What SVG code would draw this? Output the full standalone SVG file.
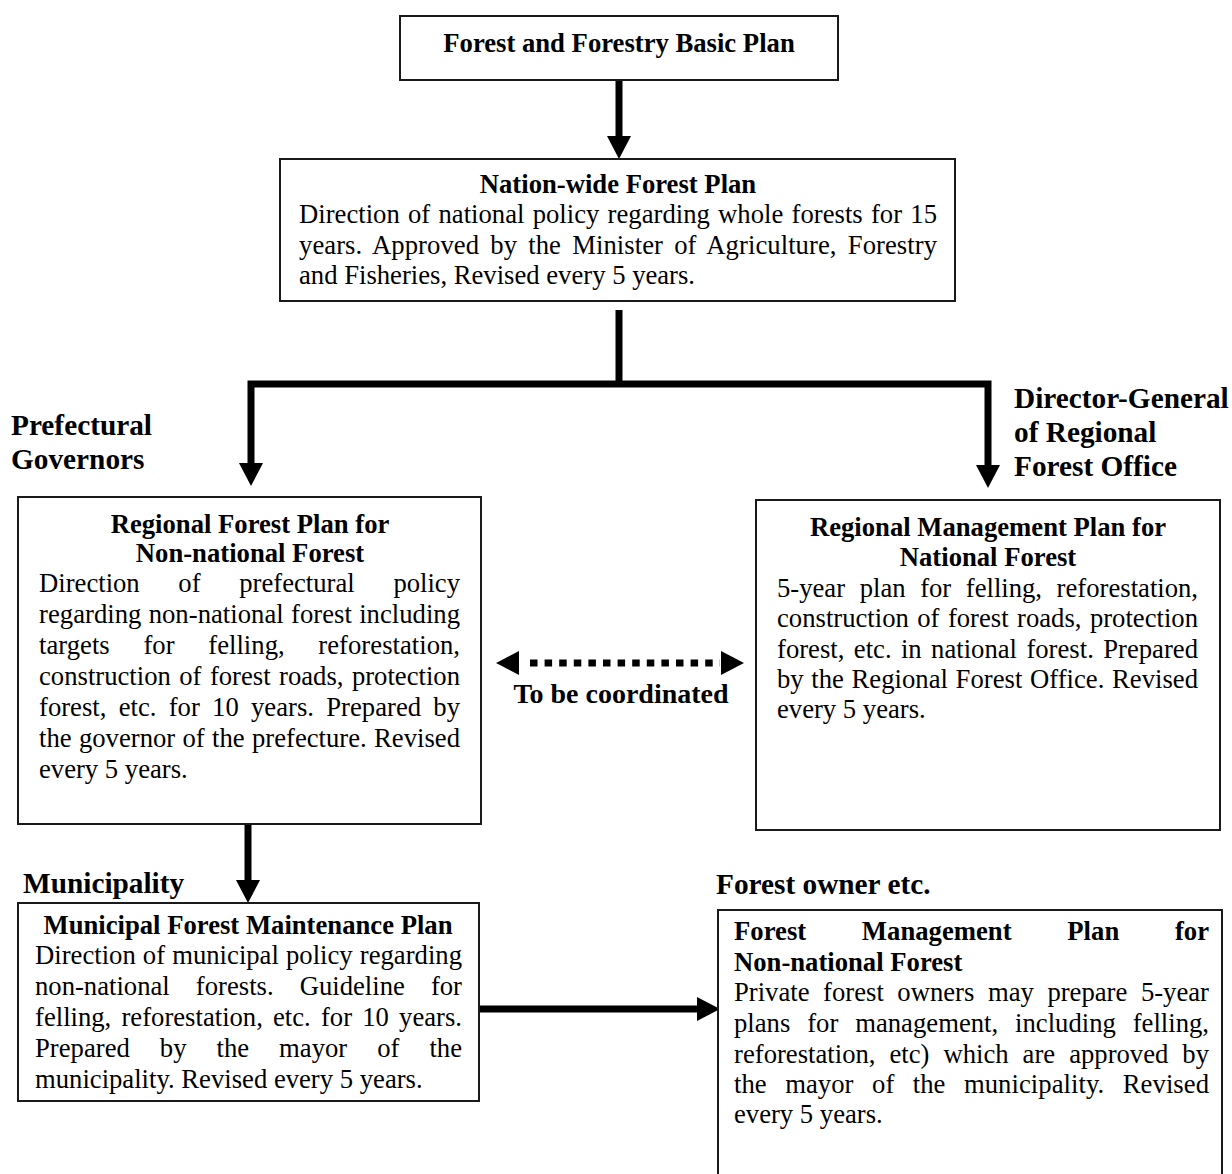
<svg xmlns="http://www.w3.org/2000/svg" width="1232" height="1174" viewBox="0 0 1232 1174">
<style>
.box{fill:#fff;stroke:#1a1a1a;stroke-width:2}
.t{font-family:"Liberation Serif","Times New Roman",serif;font-size:26.67px;fill:#000}
.b{font-weight:bold}
.lbl{font-family:"Liberation Serif","Times New Roman",serif;font-size:29.3px;font-weight:bold;fill:#000}
.c{text-anchor:middle}
.shaft{stroke:#000;stroke-width:7;fill:none;stroke-linejoin:miter}
.dash{stroke:#000;stroke-width:7;fill:none;stroke-dasharray:7.5 7.1}
.mk{stroke:none;fill:none}
</style>
<defs>
<marker id="ah" markerUnits="userSpaceOnUse" markerWidth="24" markerHeight="24" refX="0" refY="12" orient="auto-start-reverse" overflow="visible">
<path d="M0,0 L23,12 L0,24 Z" fill="#000"/>
</marker>
</defs>
<rect width="1232" height="1174" fill="#fff"/>

<g id="connectors">
<path class="shaft" d="M619,80 V136" marker-end="url(#ah)"/>
<path class="shaft" d="M619,310 V381"/>
<path class="shaft" d="M251,463 V384 H988 V465" marker-start="url(#ah)" marker-end="url(#ah)"/>
<path class="shaft" d="M248,824 V880" marker-end="url(#ah)"/>
<path class="shaft" d="M479,1009 H697" marker-end="url(#ah)"/>
<path class="dash" d="M530,663 H720"/>
<path class="mk" d="M519,663 H721" marker-start="url(#ah)" marker-end="url(#ah)"/>
</g>

<g id="basic-plan">
<rect class="box" x="400" y="16" width="438" height="64"/>
<text class="t b c" x="619" y="52">Forest and Forestry Basic Plan</text>
</g>

<g id="nationwide-plan">
<rect class="box" x="280" y="159" width="675" height="142"/>
<text class="t b c" x="618" y="193">Nation-wide Forest Plan</text>
<text class="t" x="299" y="223" word-spacing="1.6" textLength="638" lengthAdjust="spacing">Direction of national policy regarding whole forests for 15</text>
<text class="t" x="299" y="254" word-spacing="4.5" textLength="638" lengthAdjust="spacing">years. Approved by the Minister of Agriculture, Forestry</text>
<text class="t" x="299" y="284">and Fisheries, Revised every 5 years.</text>
</g>

<g id="label-prefectural">
<text class="lbl" x="11" y="435">Prefectural</text>
<text class="lbl" x="11" y="469">Governors</text>
</g>

<g id="label-director">
<text class="lbl" x="1014" y="408">Director-General</text>
<text class="lbl" x="1014" y="442">of Regional</text>
<text class="lbl" x="1014" y="476">Forest Office</text>
</g>

<g id="regional-forest-plan">
<rect class="box" x="18" y="497" width="463" height="327"/>
<text class="t b c" x="250" y="533">Regional Forest Plan for</text>
<text class="t b c" x="250" y="562">Non-national Forest</text>
<text class="t" x="39" y="592" word-spacing="32" textLength="421" lengthAdjust="spacing">Direction of prefectural policy</text>
<text class="t" x="39" y="623" word-spacing="0.6" textLength="421" lengthAdjust="spacing">regarding non-national forest including</text>
<text class="t" x="39" y="654" word-spacing="27" textLength="421" lengthAdjust="spacing">targets for felling, reforestation,</text>
<text class="t" x="39" y="685" word-spacing="1.75" textLength="421" lengthAdjust="spacing">construction of forest roads, protection</text>
<text class="t" x="39" y="716" word-spacing="5.6" textLength="421" lengthAdjust="spacing">forest, etc. for 10 years. Prepared by</text>
<text class="t" x="39" y="747" word-spacing="0.66" textLength="421" lengthAdjust="spacing">the governor of the prefecture. Revised</text>
<text class="t" x="39" y="778">every 5 years.</text>
</g>

<g id="regional-management-plan">
<rect class="box" x="756" y="500" width="464" height="330"/>
<text class="t b c" x="988" y="536">Regional Management Plan for</text>
<text class="t b c" x="988" y="566">National Forest</text>
<text class="t" x="777" y="597" word-spacing="7.9" textLength="421" lengthAdjust="spacing">5-year plan for felling, reforestation,</text>
<text class="t" x="777" y="627" word-spacing="1.75" textLength="421" lengthAdjust="spacing">construction of forest roads, protection</text>
<text class="t" x="777" y="658" word-spacing="2.7" textLength="421" lengthAdjust="spacing">forest, etc. in national forest. Prepared</text>
<text class="t" x="777" y="688" word-spacing="0.94" textLength="421" lengthAdjust="spacing">by the Regional Forest Office. Revised</text>
<text class="t" x="777" y="718">every 5 years.</text>
</g>

<g id="label-coordinated">
<text class="lbl c" x="621" y="703" style="font-size:28px">To be coordinated</text>
</g>

<g id="label-municipality">
<text class="lbl" x="23" y="893">Municipality</text>
</g>

<g id="municipal-plan">
<rect class="box" x="18" y="903" width="461" height="198"/>
<text class="t b c" x="248" y="934">Municipal Forest Maintenance Plan</text>
<text class="t" x="35" y="964" word-spacing="0.45" textLength="427" lengthAdjust="spacing">Direction of municipal policy regarding</text>
<text class="t" x="35" y="995" word-spacing="19.4" textLength="427" lengthAdjust="spacing">non-national forests. Guideline for</text>
<text class="t" x="35" y="1026" word-spacing="3.5" textLength="427" lengthAdjust="spacing">felling, reforestation, etc. for 10 years.</text>
<text class="t" x="35" y="1057" word-spacing="23.3" textLength="427" lengthAdjust="spacing">Prepared by the mayor of the</text>
<text class="t" x="35" y="1088">municipality. Revised every 5 years.</text>
</g>

<g id="label-owner">
<text class="lbl" x="716" y="894">Forest owner etc.</text>
</g>

<g id="forest-management-plan">
<rect class="box" x="718" y="910" width="504" height="290"/>
<text class="t b" x="734" y="940" word-spacing="49" textLength="475" lengthAdjust="spacing">Forest Management Plan for</text>
<text class="t b" x="734" y="971">Non-national Forest</text>
<text class="t" x="734" y="1001" word-spacing="6.9" textLength="475" lengthAdjust="spacing">Private forest owners may prepare 5-year</text>
<text class="t" x="734" y="1032" word-spacing="10.2" textLength="475" lengthAdjust="spacing">plans for management, including felling,</text>
<text class="t" x="734" y="1063" word-spacing="7.3" textLength="475" lengthAdjust="spacing">reforestation, etc) which are approved by</text>
<text class="t" x="734" y="1093" word-spacing="11.7" textLength="475" lengthAdjust="spacing">the mayor of the municipality. Revised</text>
<text class="t" x="734" y="1123">every 5 years.</text>
</g>
</svg>
